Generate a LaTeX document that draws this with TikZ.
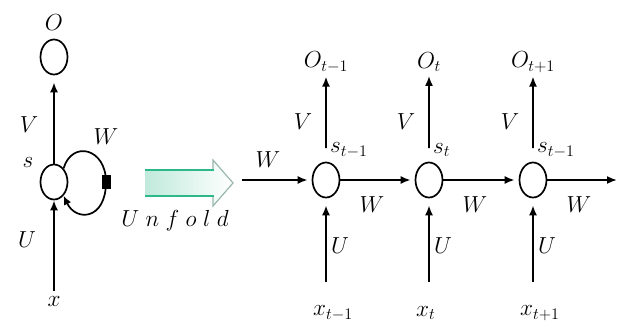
\documentclass[tikz,border=0pt]{standalone}
\usetikzlibrary{arrows.meta,shapes.geometric}
\definecolor{arrgreen}{HTML}{2DB88A}
\definecolor{headgray}{HTML}{9AB8AE}
\begin{document}
\begin{tikzpicture}[x=1pt,y=-1pt,
  cell/.style={draw,line width=1.7pt,ellipse,minimum width=27pt,minimum height=35pt,inner sep=0pt},
  lbl/.style={font=\fontsize{20.74}{24}\selectfont,inner sep=0pt,scale=1.12,transform shape},
  conn/.style={line width=1.8pt,-{Latex[length=10pt,width=8pt]}}]
\useasboundingbox[fill=white] (0,0) rectangle (621,325);
% ---------- folded network ----------
\node[cell] (O) at (54,57) {};
\node[cell] (S) at (54,182) {};
\node[lbl] (Ol) at (54,23) {$O$};
\node[lbl] (X) at (54,301) {$x$};
\draw[conn,shorten >=7pt] (S) -- (O);
\draw[conn,shorten <=5pt] (X) -- (S);
\node[lbl] (Vl) at (29,125) {$V$};
\node[lbl] (Sl) at (28,162) {$s$};
\node[lbl] (Wl) at (106,137) {$W$};
\node[lbl] (Ul) at (27,240) {$U$};
\draw[line width=1.7pt,-{Latex[length=9pt,width=8pt]}] (S.55) .. controls (72,140) and (106,148) .. (106,182) .. controls (106,220) and (76,222) .. (S.-55);
\node[fill=black,minimum width=9pt,minimum height=14pt,inner sep=0pt] (sq) at (106,182) {};
% ---------- unfold arrow ----------
\fill[left color=arrgreen!30,right color=white] (145,170) -- (213,170) -- (213,160) -- (233,183) -- (213,206) -- (213,196) -- (145,196) -- cycle;
\draw[headgray,line width=1.2pt] (213,170) -- (213,160) -- (233,183) -- (213,206) -- (213,196);
\draw[arrgreen,line width=2.6pt] (145,170) -- (214,170);
\draw[arrgreen,line width=2.6pt] (145,196) -- (214,196);
\node[lbl] (unf) at (175,221) {$U\mkern5mu n\mkern5mu f\mkern5mu o\mkern5mu l\mkern5mu d$};
% ---------- unfolded network ----------
\foreach \i/\cx/\os/\ss in {1/326/t-1/t-1, 2/429/t/t, 3/533/t+1/t-1} {
  \node[cell] (c\i) at (\cx,180) {};
  \node[lbl] (o\i) at (\cx,62) {$O_{\os}$};
  \coordinate (v\i) at (\cx,148);
  \draw[conn,shorten >=4pt] (v\i) -- (o\i);
  \node[lbl,anchor=west] (s\i) at (\cx+4,150) {$s_{\ss}$};
  \node[lbl] (V\i) at (\cx-23,122) {$V$};
  \node[lbl,anchor=west] (xx\i) at (\cx-13,313) {$x_{\os}$};
  \coordinate (b\i) at (\cx,282);
  \draw[conn,shorten >=7pt] (b\i) -- (c\i);
  \node[lbl,anchor=west] (U\i) at (\cx+5,246) {$U$};
  \node[lbl] (W\i) at (\cx+46,205) {$W$};
}
\coordinate (in) at (242,180);
\coordinate (out) at (617,180);
\node[lbl] (Win) at (268,160) {$W$};
\draw[conn,shorten >=4pt] (in) -- (c1);
\draw[conn,shorten >=4pt] (c1) -- (c2);
\draw[conn,shorten >=4pt] (c2) -- (c3);
\draw[conn] (c3) -- (out);
\end{tikzpicture}
\end{document}
